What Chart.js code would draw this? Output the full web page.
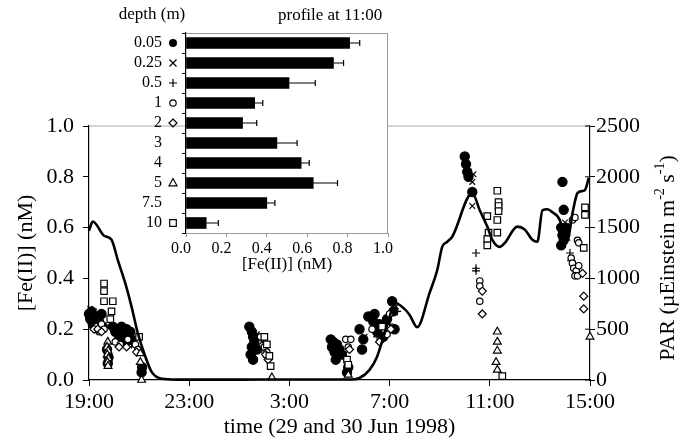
<!DOCTYPE html>
<html>
<head>
<meta charset="utf-8">
<script src="https://cdn.jsdelivr.net/npm/chart.js@4.4.0/dist/chart.umd.min.js"></script>
<style>
  body { margin: 0; background: #fff; }
  #wrap { position: relative; width: 691px; height: 444px; }
  #main { position: absolute; left: 0; top: 0; }
  #inset { position: absolute; left: 100px; top: 0; }
</style>
</head>
<body>
<div id="wrap">
  <canvas id="main" width="691" height="444"></canvas>
  <canvas id="inset" width="300" height="280"></canvas>
</div>
<script>
// x is hours after 19:00 on 29 Jun
var timeLabels = ['19:00', '23:00', '3:00', '7:00', '11:00', '15:00'];

// PAR trace (right axis)
var parHours = [0, 0.15, 0.6, 0.9, 1.15, 1.45, 1.7, 1.95, 2.25, 2.5, 2.9, 3.5, 6, 8, 10.5, 10.8, 11.2, 11.5, 11.75, 12.0, 12.2, 12.55, 12.8, 13.1, 13.6, 13.9, 14.1, 14.3, 14.5, 15.3, 15.6, 15.9, 16.1, 16.4, 16.6, 17.1, 17.4, 17.7, 17.9, 18.1, 18.3, 18.5, 18.8, 18.95, 19.1, 19.3, 19.5, 19.7, 19.8, 19.95];
var parValues = [1470, 1560, 1420, 1380, 1180, 950, 720, 460, 230, 80, 12, 4, 4, 5, 5, 20, 100, 230, 420, 620, 760, 710, 640, 520, 860, 1080, 1310, 1360, 1410, 1840, 1670, 1510, 1380, 1310, 1350, 1510, 1480, 1380, 1360, 1670, 1680, 1650, 1570, 1420, 1380, 1640, 1840, 1860, 1870, 1990];

// [Fe(II)] samples per depth: [hour, nM]
var fe005 = [[0.0,0.26],[0.05,0.24],[0.1,0.27],[0.15,0.22],[0.2,0.24],[0.3,0.25],[0.4,0.23],[0.5,0.26],[0.55,0.21],
  [0.72,0.12],[0.78,0.09],[0.75,0.065],
  [0.95,0.21],[1.05,0.19],[1.15,0.2],[1.2,0.16],[1.25,0.18],[1.3,0.21],[1.4,0.19],[1.45,0.15],[1.5,0.2],[1.55,0.17],[1.65,0.19],[1.7,0.16],
  [2.1,0.03],[2.12,0.05],
  [6.4,0.21],[6.5,0.19],[6.55,0.17],[6.6,0.15],[6.5,0.13],[6.45,0.1],[6.55,0.08],[6.7,0.12],
  [9.65,0.16],[9.7,0.13],[9.75,0.15],[9.8,0.11],[9.9,0.14],[9.85,0.08],[10.0,0.12],[10.1,0.1],[10.3,0.03],[10.35,0.05],
  [10.8,0.2],[10.95,0.16],[10.9,0.12],[11.15,0.25],[11.35,0.23],[11.5,0.19],[11.4,0.26],[11.6,0.22],[11.75,0.17],[11.9,0.24],[12.1,0.31],[12.15,0.27],[12.2,0.2],
  [15.0,0.88],[15.05,0.85],[15.1,0.82],[15.15,0.8],[15.3,0.74],
  [18.9,0.78],[18.95,0.67],[18.85,0.6],[18.9,0.57],[18.95,0.55],[19.0,0.58],[18.85,0.53],[19.05,0.6]];
var fe025 = [[0.05,0.28],[0.2,0.27],[0.35,0.26],[0.1,0.23],[0.45,0.25],
  [1.0,0.2],[1.3,0.17],[1.6,0.18],[1.8,0.15],
  [6.7,0.18],[6.9,0.15],
  [9.8,0.14],[10.2,0.1],
  [11.0,0.17],[11.7,0.22],[12.25,0.29],
  [15.35,0.81],[15.3,0.78],[15.3,0.685],
  [19.0,0.62],[19.1,0.56]];
var fe05 = [[0.15,0.25],[0.45,0.22],
  [1.4,0.17],[1.7,0.14],[2.0,0.12],
  [6.9,0.12],[7.1,0.09],
  [10.0,0.09],
  [11.5,0.17],[12.0,0.22],[12.3,0.27],
  [15.45,0.5],[15.45,0.44],[15.45,0.43],
  [19.2,0.5],[19.25,0.47]];
var fe1 = [[0.25,0.2],[0.3,0.21],[0.5,0.22],[0.6,0.2],[0.4,0.19],
  [1.05,0.15],[1.25,0.14],[1.55,0.16],[1.85,0.14],[1.95,0.12],
  [6.85,0.17],[7.0,0.13],[7.1,0.11],
  [10.25,0.16],[10.45,0.16],[10.35,0.13],
  [11.3,0.2],[11.9,0.18],[12.0,0.26],
  [15.6,0.39],[15.6,0.37],[15.6,0.31],
  [19.3,0.63],[19.4,0.64],[19.25,0.48],[19.3,0.46],[19.35,0.44],[19.45,0.43],[19.4,0.41],[19.5,0.41],[19.55,0.45],[19.5,0.55],[19.55,0.54]];
var fe2 = [[0.2,0.2],[0.35,0.2],[0.5,0.19],
  [1.2,0.13],[1.5,0.13],[1.9,0.11],
  [7.05,0.1],[7.15,0.08],
  [10.4,0.12],
  [11.6,0.15],[12.05,0.2],
  [15.7,0.35],[15.7,0.26],
  [19.7,0.42],[19.75,0.33],[19.75,0.28]];
var fe5 = [[0.75,0.15],[0.72,0.13],[0.76,0.115],[0.73,0.1],[0.77,0.085],[0.74,0.07],[0.76,0.055],
  [2.05,0.105],[2.05,0.07],[2.1,0.0],
  [7.3,0.01],
  [10.35,0.02],
  [16.3,0.19],[16.3,0.15],[16.3,0.115],[16.25,0.07],[16.3,0.04],
  [20.0,0.17]];
var fe10 = [[0.6,0.38],[0.6,0.35],[0.6,0.31],[0.95,0.31],[0.9,0.27],[0.85,0.24],
  [2.0,0.17],
  [7.0,0.17],[7.1,0.14],[7.2,0.095],[7.25,0.055],
  [10.3,0.08],[10.35,0.06],
  [11.7,0.21],
  [15.9,0.645],[15.95,0.58],[15.9,0.555],[15.9,0.53],[16.3,0.745],[16.35,0.70],[16.35,0.685],[16.35,0.665],[16.3,0.63],[16.3,0.58],[16.5,0.015],
  [19.8,0.68],[19.8,0.65],[19.75,0.52]];

// inset: profile at 11:00
var depthLabels = ['0.05', '0.25', '0.5', '1', '2', '3', '4', '5', '7.5', '10'];
var depthSymbols = ['dot', 'x', 'plus', 'circle', 'diamond', '', '', 'triangle', '', 'square'];
var profileFe = [0.81, 0.73, 0.51, 0.34, 0.28, 0.45, 0.57, 0.63, 0.40, 0.10];
var profileErr = [0.05, 0.05, 0.13, 0.04, 0.07, 0.10, 0.04, 0.12, 0.04, 0.06];

var serif = '"Liberation Serif", "Times New Roman", serif';

function pts(arr) {
  return arr.map(function(p) { return { x: p[0], y: p[1] }; });
}

function depthSet(label, arr, style, radius, fill, order) {
  return {
    label: label,
    data: pts(arr),
    pointStyle: style,
    pointRadius: radius,
    pointBackgroundColor: fill,
    pointBorderColor: '#000',
    pointBorderWidth: 1.2,
    showLine: false,
    yAxisID: 'y',
    order: order,
    clip: false
  };
}

var mainExtras = {
  id: 'mainExtras',
  afterDraw: function(chart) {
    var ctx = chart.ctx;
    var a = chart.chartArea;
    var yTop = chart.scales.y.getPixelForValue(1);
    ctx.save();
    ctx.strokeStyle = '#aaa';
    ctx.lineWidth = 1.2;
    ctx.beginPath();
    ctx.moveTo(a.left, yTop);
    ctx.lineTo(a.right, yTop);
    ctx.stroke();
    // inner half of right axis ticks
    ctx.strokeStyle = '#000';
    ctx.lineWidth = 1;
    chart.scales.y2.ticks.forEach(function(t) {
      var py = chart.scales.y2.getPixelForValue(t.value);
      ctx.beginPath();
      ctx.moveTo(a.right - 5, py);
      ctx.lineTo(a.right, py);
      ctx.stroke();
    });
    // right axis title with superscripts
    ctx.translate(668, 258);
    ctx.rotate(-Math.PI / 2);
    ctx.fillStyle = '#000';
    ctx.textBaseline = 'middle';
    var parts = [['PAR (\u00b5Einstein m', 0], ['-2', 1], [' s', 0], ['-1', 1], [')', 0]];
    var big = '22px ' + serif, small = '14px ' + serif;
    var total = 0;
    parts.forEach(function(p) { ctx.font = p[1] ? small : big; total += ctx.measureText(p[0]).width; });
    var x = -total / 2;
    parts.forEach(function(p) {
      ctx.font = p[1] ? small : big;
      ctx.fillText(p[0], x, p[1] ? -8 : 0);
      x += ctx.measureText(p[0]).width;
    });
    ctx.restore();
  }
};

new Chart(document.getElementById('main'), {
  type: 'scatter',
  data: {
    datasets: [
      {
        label: 'PAR',
        data: parHours.map(function(h, i) { return { x: h, y: parValues[i] }; }),
        showLine: true,
        pointRadius: 0,
        borderColor: '#000',
        borderWidth: 2.6,
        cubicInterpolationMode: 'monotone',
        yAxisID: 'y2',
        order: 0,
        clip: false
      },
      depthSet('10 m', fe10, 'rect', 4.6, '#fff', 1),
      depthSet('5 m', fe5, 'triangle', 4.5, '#fff', 2),
      depthSet('2 m', fe2, 'rectRot', 4, '#fff', 3),
      depthSet('1 m', fe1, 'circle', 3.2, '#fff', 4),
      depthSet('0.5 m', fe05, 'cross', 4, '#000', 5),
      depthSet('0.25 m', fe025, 'crossRot', 4, '#000', 6),
      depthSet('0.05 m', fe005, 'circle', 4.6, '#000', 7)
    ]
  },
  options: {
    responsive: false,
    animation: false,
    events: [],
    layout: { padding: { top: 126, left: 0, right: 0, bottom: 0 } },
    plugins: { legend: { display: false }, tooltip: { enabled: false } },
    scales: {
      x: {
        type: 'linear',
        min: 0,
        max: 20,
        afterFit: function(s) { s.height = 64; },
        ticks: {
          stepSize: 4,
          autoSkip: false,
          maxRotation: 0,
          padding: 3,
          color: '#000',
          font: { family: serif, size: 22 },
          callback: function(v) { return timeLabels[Math.round(v / 4)]; }
        },
        grid: { drawOnChartArea: false, tickLength: 6, color: '#000' },
        border: { color: '#000', width: 1.2 },
        title: { display: true, text: 'time (29 and 30 Jun 1998)', color: '#000', font: { family: serif, size: 22 }, padding: { top: 0, bottom: 4 } }
      },
      y: {
        position: 'left',
        min: 0,
        max: 1,
        afterFit: function(s) { s.width = 89; },
        ticks: {
          stepSize: 0.2,
          padding: 9,
          color: '#000',
          font: { family: serif, size: 22 },
          callback: function(v) { return v.toFixed(1); }
        },
        grid: { drawOnChartArea: false, tickLength: 6, color: '#000' },
        border: { color: '#000', width: 1.2 },
        title: { display: true, text: '[Fe(II)] (nM)', color: '#000', font: { family: serif, size: 22 }, padding: { top: 13, bottom: 0 } }
      },
      y2: {
        position: 'right',
        min: 0,
        max: 2500,
        afterFit: function(s) { s.width = 101; },
        ticks: {
          stepSize: 500,
          padding: 1,
          color: '#000',
          font: { family: serif, size: 22 },
          callback: function(v) { return String(v); }
        },
        grid: { drawOnChartArea: false, tickLength: 5, color: '#000' },
        border: { color: '#000', width: 1.2 }
      }
    }
  },
  plugins: [mainExtras]
});

function drawSymbol(ctx, kind, x, y) {
  ctx.save();
  ctx.strokeStyle = '#000';
  ctx.fillStyle = '#000';
  ctx.lineWidth = 1.2;
  ctx.beginPath();
  if (kind === 'dot') {
    ctx.arc(x, y, 4, 0, Math.PI * 2);
    ctx.fill();
  } else if (kind === 'x') {
    ctx.moveTo(x - 3.5, y - 3.5); ctx.lineTo(x + 3.5, y + 3.5);
    ctx.moveTo(x + 3.5, y - 3.5); ctx.lineTo(x - 3.5, y + 3.5);
    ctx.stroke();
  } else if (kind === 'plus') {
    ctx.moveTo(x - 4, y); ctx.lineTo(x + 4, y);
    ctx.moveTo(x, y - 4); ctx.lineTo(x, y + 4);
    ctx.stroke();
  } else if (kind === 'circle') {
    ctx.arc(x, y, 3.2, 0, Math.PI * 2);
    ctx.stroke();
  } else if (kind === 'diamond') {
    ctx.moveTo(x, y - 4); ctx.lineTo(x + 4, y); ctx.lineTo(x, y + 4); ctx.lineTo(x - 4, y); ctx.closePath();
    ctx.stroke();
  } else if (kind === 'triangle') {
    ctx.moveTo(x, y - 4.5); ctx.lineTo(x + 4, y + 2.8); ctx.lineTo(x - 4, y + 2.8); ctx.closePath();
    ctx.stroke();
  } else if (kind === 'square') {
    ctx.rect(x - 3.3, y - 3.3, 6.6, 6.6);
    ctx.stroke();
  }
  ctx.restore();
}

var insetExtras = {
  id: 'insetExtras',
  beforeDraw: function(chart) {
    var ctx = chart.ctx;
    var a = chart.chartArea;
    ctx.save();
    ctx.fillStyle = '#fff';
    ctx.fillRect(a.left, a.top, a.right - a.left, a.bottom - a.top);
    ctx.strokeStyle = '#999';
    ctx.lineWidth = 1;
    ctx.beginPath();
    ctx.moveTo(a.left, a.top + 0.5);
    ctx.lineTo(a.right - 0.5, a.top + 0.5);
    ctx.lineTo(a.right - 0.5, a.bottom);
    ctx.stroke();
    ctx.restore();
  },
  afterDraw: function(chart) {
    var ctx = chart.ctx;
    var xs = chart.scales.x, ys = chart.scales.y;
    ctx.save();
    ctx.strokeStyle = '#000';
    ctx.lineWidth = 1.2;
    profileFe.forEach(function(v, i) {
      var py = ys.getPixelForValue(i);
      var x0 = xs.getPixelForValue(v), x1 = xs.getPixelForValue(v + profileErr[i]);
      ctx.beginPath();
      ctx.moveTo(x0, py); ctx.lineTo(x1, py);
      ctx.moveTo(x1, py - 3); ctx.lineTo(x1, py + 3);
      ctx.stroke();
      if (depthSymbols[i]) drawSymbol(ctx, depthSymbols[i], 73, py);
    });
    ctx.fillStyle = '#000';
    ctx.textBaseline = 'middle';
    ctx.font = '17px ' + serif;
    ctx.textAlign = 'center';
    ctx.fillText('depth (m)', 52, 15);
    ctx.textAlign = 'left';
    ctx.fillText('profile at 11:00', 178, 16);
    ctx.restore();
  }
};

new Chart(document.getElementById('inset'), {
  type: 'bar',
  data: {
    labels: depthLabels,
    datasets: [{
      data: profileFe,
      backgroundColor: '#000',
      borderWidth: 0,
      barThickness: 11
    }]
  },
  options: {
    indexAxis: 'y',
    responsive: false,
    animation: false,
    events: [],
    layout: { padding: { top: 33, left: 0, right: 9, bottom: 0 } },
    plugins: { legend: { display: false }, tooltip: { enabled: false } },
    scales: {
      y: {
        afterFit: function(s) { s.width = 86; },
        ticks: { autoSkip: false, padding: 20, color: '#000', font: { family: serif, size: 16 } },
        grid: { drawOnChartArea: false, tickLength: 4, color: '#000', offset: true },
        border: { color: '#000', width: 1.2 }
      },
      x: {
        min: 0,
        max: 1,
        afterFit: function(s) { s.height = 47; },
        ticks: {
          stepSize: 0.2,
          padding: 2,
          labelOffset: -5,
          color: '#000',
          font: { family: serif, size: 16 },
          callback: function(v) { return v.toFixed(1); }
        },
        grid: { drawOnChartArea: false, tickLength: 4, color: '#999' },
        border: { color: '#999', width: 1 },
        title: { display: true, text: '[Fe(II)] (nM)', color: '#000', font: { family: serif, size: 17 }, padding: { top: 0, bottom: 5 } }
      }
    }
  },
  plugins: [insetExtras]
});
</script>
</body>
</html>
